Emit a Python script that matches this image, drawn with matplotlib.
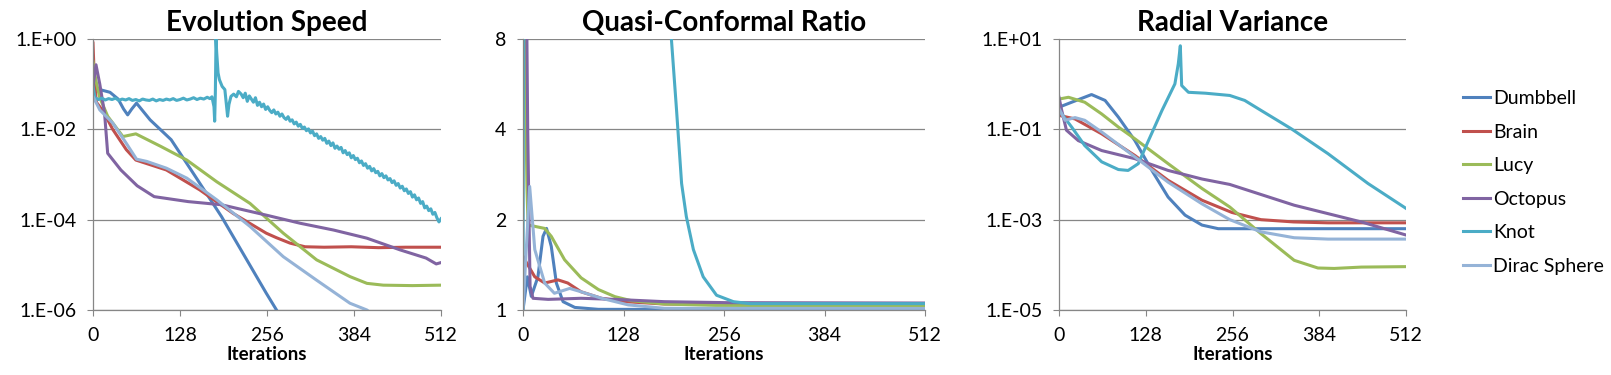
import matplotlib.pyplot as plt
import numpy as np

plt.rcParams['font.family'] = ['Lato', 'DejaVu Sans']

names = ["Dumbbell", "Brain", "Lucy", "Octopus", "Knot", "Dirac Sphere"]
colors = ["#4F81BD", "#C0504D", "#9BBB59", "#8064A2", "#4BACC6", "#95B3D7"]

# ---- Evolution Speed (log10 of value) ----
speed_dumbbell_x = [0, 10, 25, 37, 45, 51, 57, 64, 84, 115, 150, 189, 255, 270, 290]
speed_dumbbell_y = [-1.12, -1.12, -1.18, -1.33, -1.55, -1.68, -1.55, -1.42, -1.79, -2.23, -3.03, -3.93, -5.63, -6.0, -6.5]
speed_brain_x = [0, 2, 5, 15, 29, 49, 63, 108, 157, 206, 255, 270, 290, 312, 340, 380, 420, 460, 512]
speed_brain_y = [-0.09, -0.9, -1.4, -1.6, -2.0, -2.45, -2.68, -2.90, -3.34, -3.86, -4.30, -4.40, -4.52, -4.60, -4.61, -4.60, -4.62, -4.61, -4.61]
speed_lucy_x = [0, 4, 10, 21.6, 44, 63, 100, 138, 182, 231, 280, 329, 378, 403, 427, 470, 512]
speed_lucy_y = [-0.50, -0.9, -1.3, -1.71, -2.16, -2.10, -2.38, -2.68, -3.16, -3.64, -4.30, -4.89, -5.26, -5.41, -5.45, -5.46, -5.45]
speed_octopus_x = [0, 4.4, 10, 17, 21.6, 41, 65, 90, 140, 189, 255, 305, 354, 403, 452, 490, 505, 512]
speed_octopus_y = [-1.05, -0.57, -1.0, -1.64, -2.53, -2.90, -3.25, -3.49, -3.60, -3.67, -3.90, -4.08, -4.23, -4.41, -4.67, -4.85, -4.98, -4.95]
speed_knot_x = [0, 3, 8, 13, 18, 23, 28, 33, 38, 43, 48, 53, 58, 63, 68, 73, 78, 83, 88, 93, 98, 103, 108, 113,
                118, 123, 128, 133, 138, 143, 148, 153, 158, 163, 168, 172, 175,
                178, 179, 180, 181, 182, 184, 186, 190, 194, 198,
                200, 203, 207, 211, 214, 218, 221, 224, 227, 230, 233, 236, 239, 242, 245, 248, 251, 254, 257,
                260, 263, 266, 269, 272, 275, 278, 281, 284, 287, 290, 293, 296, 299, 302, 305, 308, 311, 314,
                317, 320, 323, 326, 329, 332, 335, 338, 341, 344, 347, 350, 353, 356, 359, 362, 365, 368, 371,
                374, 377, 380, 383, 386, 389, 392, 395, 398, 401, 404, 407, 410, 413, 416, 419, 422, 425, 428,
                431, 434, 437, 440, 443, 446, 449, 452, 455, 458, 461, 464, 467, 470, 473, 476, 479, 482, 485,
                488, 491, 494, 497, 500, 503, 506, 509, 512]
speed_knot_y = [-1.05, -1.30, -1.34, -1.31, -1.35, -1.32, -1.34, -1.31, -1.36, -1.33, -1.35, -1.32, -1.36, -1.34,
                -1.37, -1.33, -1.35, -1.36, -1.33, -1.37, -1.34, -1.36, -1.33, -1.35, -1.32, -1.36, -1.34, -1.31,
                -1.35, -1.33, -1.30, -1.34, -1.31, -1.33, -1.29, -1.32, -1.28,
                -1.5, -1.82, -1.2, 0.0, -0.3, -0.75, -0.90, -1.05, -1.12, -1.71,
                -1.45, -1.27, -1.22, -1.28, -1.16, -1.22, -1.30, -1.20, -1.38, -1.26, -1.33, -1.40, -1.30, -1.47,
                -1.40, -1.50, -1.44, -1.56, -1.50, -1.58, -1.63, -1.57, -1.66, -1.62, -1.71, -1.66, -1.74, -1.78,
                -1.72, -1.82, -1.79, -1.88, -1.84, -1.93, -1.89, -1.98, -1.95, -2.03, -1.99, -2.08, -2.04, -2.14,
                -2.10, -2.20, -2.16, -2.24, -2.20, -2.31, -2.26, -2.36, -2.30, -2.42, -2.37, -2.44, -2.40, -2.52,
                -2.47, -2.56, -2.52, -2.63, -2.58, -2.67, -2.64, -2.74, -2.70, -2.80, -2.76, -2.86, -2.82, -2.92,
                -2.87, -2.96, -2.93, -3.03, -2.98, -3.07, -3.03, -3.12, -3.09, -3.18, -3.14, -3.24, -3.20, -3.30,
                -3.26, -3.36, -3.32, -3.42, -3.38, -3.50, -3.45, -3.56, -3.52, -3.64, -3.60, -3.74, -3.70, -3.80,
                -3.76, -3.88, -3.84, -3.96, -4.05, -3.98]
speed_dirac_x = [0, 10, 29, 49, 64, 79, 108, 138, 182, 231, 280, 329, 378, 403, 420]
speed_dirac_y = [-1.27, -1.57, -1.86, -2.31, -2.66, -2.71, -2.86, -3.08, -3.56, -4.15, -4.82, -5.34, -5.85, -6.0, -6.2]

# ---- Quasi-Conformal Ratio ----
qc_dumbbell_x = [0, 5.5, 10.6, 19, 25.5, 30, 36, 42.5, 51, 66, 96, 512]
qc_dumbbell_y = [1.0, 1.29, 1.11, 1.29, 1.76, 1.87, 1.63, 1.23, 1.066, 1.02, 1.005, 1.003]
qc_brain_x = [0, 5, 15, 27.6, 44.6, 57, 74, 100, 130, 180, 512]
qc_brain_y = [1.51, 1.43, 1.29, 1.23, 1.26, 1.23, 1.15, 1.094, 1.066, 1.047, 1.032]
qc_lucy_x = [0, 3, 5, 6.4, 15, 27.6, 36, 53, 74, 96, 117, 138, 180, 245, 512]
qc_lucy_y = [12, 6, 2.58, 1.92, 1.90, 1.87, 1.76, 1.47, 1.28, 1.17, 1.108, 1.074, 1.047, 1.036, 1.032]
qc_octopus_x = [0, 3, 6, 9, 12.7, 32, 74, 117, 180, 260, 512]
qc_octopus_y = [30, 30, 4.0, 1.2, 1.094, 1.085, 1.094, 1.085, 1.066, 1.058, 1.055]
qc_knot_x = [0, 1, 178, 189, 195.5, 202, 208, 217, 229.5, 246.5, 268, 289, 512]
qc_knot_y = [1.0, 20, 20, 8.0, 4.66, 2.64, 2.05, 1.59, 1.29, 1.12, 1.066, 1.05, 1.05]
qc_dirac_x = [0, 8.5, 15, 27.6, 40, 59.5, 74, 100, 134, 180, 512]
qc_dirac_y = [1.0, 2.58, 1.59, 1.23, 1.137, 1.18, 1.15, 1.094, 1.04, 1.013, 1.012]

# ---- Radial Variance (log10 of value) ----
rv_dumbbell_x = [0, 18.7, 48, 68, 87.6, 112, 137, 161, 186, 211, 235, 512]
rv_dumbbell_y = [-0.51, -0.40, -0.23, -0.36, -0.73, -1.25, -1.91, -2.50, -2.90, -3.12, -3.20, -3.20]
rv_brain_x = [0, 23.6, 63, 112, 161, 211, 255, 298, 346, 397, 512]
rv_brain_y = [-0.69, -0.77, -1.10, -1.58, -2.13, -2.57, -2.84, -3.0, -3.05, -3.07, -3.07]
rv_lucy_x = [0, 14, 38, 63, 87.6, 112, 161, 211, 252, 298, 347, 382, 406, 446, 512]
rv_lucy_y = [-0.33, -0.29, -0.40, -0.66, -0.95, -1.21, -1.76, -2.31, -2.72, -3.31, -3.90, -4.07, -4.08, -4.05, -4.04]
rv_octopus_x = [0, 4, 11, 28.5, 63, 112, 161, 211, 252, 347, 446, 512]
rv_octopus_y = [-0.29, -0.58, -1.02, -1.25, -1.47, -1.65, -1.91, -2.10, -2.22, -2.68, -3.05, -3.34]
rv_knot_x = [0, 18.7, 38, 63, 87.6, 102, 117, 132, 152, 171, 176, 179, 181, 191, 216, 252, 274, 298, 343, 397, 456, 512]
rv_knot_y = [-0.58, -0.95, -1.36, -1.72, -1.89, -1.91, -1.76, -1.25, -0.58, 0.006, 0.45, 0.85, -0.03, -0.18, -0.20, -0.25, -0.36, -0.58, -0.99, -1.54, -2.20, -2.75]
rv_dirac_x = [0, 9, 23.6, 38, 63, 112, 161, 211, 252, 298, 347, 397, 512]
rv_dirac_y = [-0.54, -0.80, -0.74, -0.80, -1.06, -1.61, -2.17, -2.65, -3.00, -3.27, -3.40, -3.43, -3.43]

xticks = [0, 128, 256, 384, 512]
speed_ticks = [1e0, 1e-2, 1e-4, 1e-6]
speed_labels = ["1.E+00", "1.E-02", "1.E-04", "1.E-06"]
qc_ticks = [1, 2, 4, 8]
qc_labels = ["1", "2", "4", "8"]
rv_ticks = [1e1, 1e-1, 1e-3, 1e-5]
rv_labels = ["1.E+01", "1.E-01", "1.E-03", "1.E-05"]

grey = "#868686"
fig = plt.figure(figsize=(16.11, 3.75), dpi=100)
ax1 = fig.add_axes([93 / 1611, 65 / 375, 348 / 1611, 271 / 375])
ax2 = fig.add_axes([523 / 1611, 65 / 375, 402 / 1611, 271 / 375])
ax3 = fig.add_axes([1059 / 1611, 65 / 375, 347 / 1611, 271 / 375])

speed = [(speed_dumbbell_x, speed_dumbbell_y), (speed_brain_x, speed_brain_y), (speed_lucy_x, speed_lucy_y),
         (speed_octopus_x, speed_octopus_y), (speed_knot_x, speed_knot_y), (speed_dirac_x, speed_dirac_y)]
qc = [(qc_dumbbell_x, qc_dumbbell_y), (qc_brain_x, qc_brain_y), (qc_lucy_x, qc_lucy_y),
      (qc_octopus_x, qc_octopus_y), (qc_knot_x, qc_knot_y), (qc_dirac_x, qc_dirac_y)]
rv = [(rv_dumbbell_x, rv_dumbbell_y), (rv_brain_x, rv_brain_y), (rv_lucy_x, rv_lucy_y),
      (rv_octopus_x, rv_octopus_y), (rv_knot_x, rv_knot_y), (rv_dirac_x, rv_dirac_y)]

for i in range(6):
    ax1.plot(speed[i][0], 10 ** np.array(speed[i][1]), color=colors[i], lw=2.2, label=names[i])
    ax2.plot(qc[i][0], qc[i][1], color=colors[i], lw=2.2)
    ax3.plot(rv[i][0], 10 ** np.array(rv[i][1]), color=colors[i], lw=2.2)

ax1.set_yscale("log")
ax1.set_ylim(1e-6, 1e0)
ax1.set_yticks(speed_ticks, speed_labels)
ax2.set_yscale("log", base=2)
ax2.set_ylim(1, 8)
ax2.set_yticks(qc_ticks, qc_labels)
ax3.set_yscale("log")
ax3.set_ylim(1e-5, 1e1)
ax3.set_yticks(rv_ticks, rv_labels)

titles = ["Evolution Speed", "Quasi-Conformal Ratio", "Radial Variance"]
for ax, t in zip([ax1, ax2, ax3], titles):
    ax.minorticks_off()
    ax.set_xlim(0, 512)
    ax.set_xticks(xticks)
    ax.set_title(t, fontsize=20, fontweight="bold", pad=6)
    ax.set_xlabel("Iterations", fontsize=13.5, fontweight="bold", labelpad=2)
    ax.grid(axis="y", color=grey, lw=0.9)
    ax.set_axisbelow(True)
    for s in ["top", "right"]:
        ax.spines[s].set_visible(False)
    for s in ["left", "bottom"]:
        ax.spines[s].set_color(grey)
        ax.spines[s].set_linewidth(0.9)
    ax.tick_params(axis="x", length=4, color=grey, labelsize=14, pad=8)
    ax.tick_params(axis="y", length=4, color=grey, labelsize=14, pad=8)

h, l = ax1.get_legend_handles_labels()
fig.legend(h, l, loc="upper left", bbox_to_anchor=(1463 / 1611, 1 - 90 / 375), frameon=False,
           fontsize=14, handlelength=1.4, handletextpad=0.15, labelspacing=0.85,
           borderpad=0, borderaxespad=0)

plt.savefig("out.png", dpi=100)
